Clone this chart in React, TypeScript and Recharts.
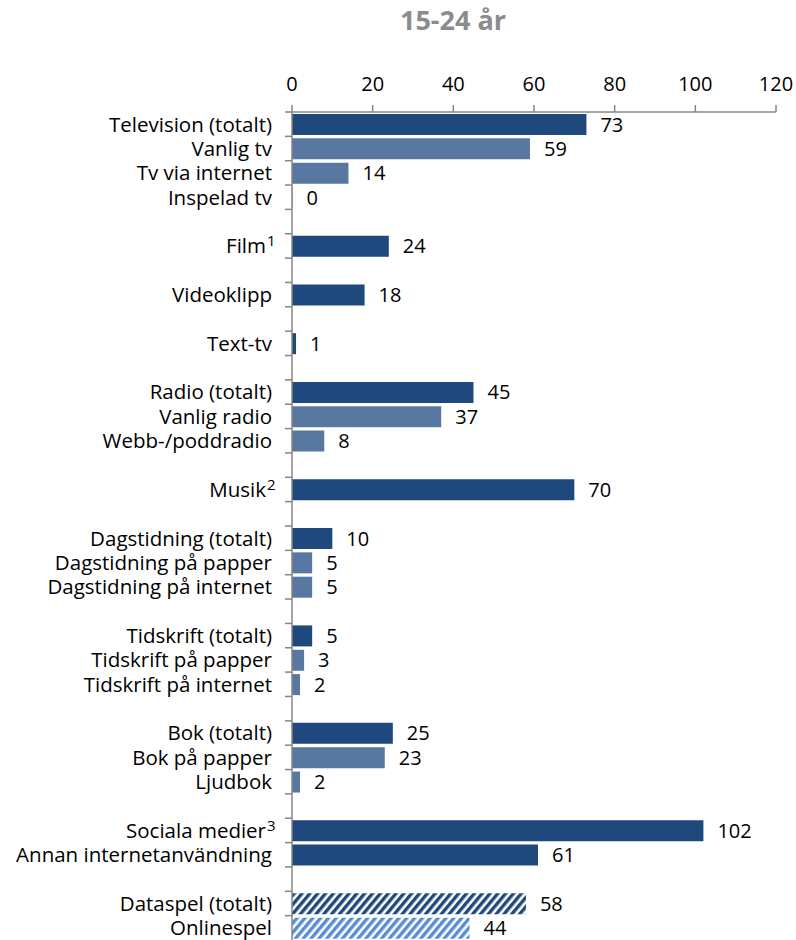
import React from 'react';
import { BarChart, Bar, XAxis, YAxis, Cell, LabelList } from 'recharts';

// one row per category, blank rows separate the groups
const categories = [
  'Television (totalt)', 'Vanlig tv', 'Tv via internet', 'Inspelad tv', '',
  'Film', '',
  'Videoklipp', '',
  'Text-tv', '',
  'Radio (totalt)', 'Vanlig radio', 'Webb-/poddradio', '',
  'Musik', '',
  'Dagstidning (totalt)', 'Dagstidning på papper', 'Dagstidning på internet', '',
  'Tidskrift (totalt)', 'Tidskrift på papper', 'Tidskrift på internet', '',
  'Bok (totalt)', 'Bok på papper', 'Ljudbok', '',
  'Sociala medier', 'Annan internetanvändning', '',
  'Dataspel (totalt)', 'Onlinespel',
];

const footnotes: Record<string, string> = {
  Film: '1',
  Musik: '2',
  'Sociala medier': '3',
};

const minutes: (number | null)[] = [
  73, 59, 14, 0, null,
  24, null,
  18, null,
  1, null,
  45, 37, 8, null,
  70, null,
  10, 5, 5, null,
  5, 3, 2, null,
  25, 23, 2, null,
  102, 61, null,
  58, 44,
];

// t = total, s = sub-item, g = games total, gs = games sub-item
const rowKind = [
  't', 's', 's', 's', '',
  't', '',
  't', '',
  't', '',
  't', 's', 's', '',
  't', '',
  't', 's', 's', '',
  't', 's', 's', '',
  't', 's', 's', '',
  't', 't', '',
  'g', 'gs',
];

const xTicks = [0, 20, 40, 60, 80, 100, 120];

const data = categories.map((name, i) => ({ id: `r${i}`, name, value: minutes[i], kind: rowKind[i] }));

const W = 796;
const H = 940;
const M = { top: 82, right: 20, bottom: 0, left: 0 };
const X_AXIS_H = 30;
const Y_AXIS_W = 292;
const band = (H - M.top - X_AXIS_H - M.bottom) / categories.length;

const FONT = '"Open Sans", sans-serif';
const AXIS_GRAY = '#868686';

const fillFor = (kind: string) => {
  if (kind === 's') return '#5878A1';
  if (kind === 'g') return 'url(#hatchDark)';
  if (kind === 'gs') return 'url(#hatchLight)';
  return '#1F497D';
};

const CategoryTick = (props: any) => {
  const { x, y, payload, index } = props;
  const row = data[index] ?? data.find((d) => d.id === payload.value);
  const name = row ? row.name : '';
  const sup = footnotes[name];
  const axisX = Y_AXIS_W;
  const top = y - band / 2;
  return (
    <g>
      <line x1={axisX - 7} x2={axisX} y1={top} y2={top} stroke={AXIS_GRAY} strokeWidth={1.5} />
      {name && (
        <text x={x - (sup ? 6 : 0)} y={y} dy="0.36em" textAnchor="end" fontFamily={FONT} fontSize={20.5} fill="#000">
          {name}
        </text>
      )}
      {sup && (
        <text x={x - 5} y={y - 5} dy="0.36em" textAnchor="start" fontFamily={FONT} fontSize={15} fill="#000">
          {sup}
        </text>
      )}
    </g>
  );
};

export default function App() {
  return (
    <div style={{ position: 'absolute', left: 0, top: 0, width: W, height: H, background: '#fff' }}>
      <svg width={0} height={0} style={{ position: 'absolute' }}>
        <defs>
          <pattern id="hatchDark" patternUnits="userSpaceOnUse" width={6} height={6} patternTransform="rotate(40)">
            <rect width={6} height={6} fill="#fff" />
            <rect width={3.4} height={6} fill="#1F497D" />
          </pattern>
          <pattern id="hatchLight" patternUnits="userSpaceOnUse" width={6} height={6} patternTransform="rotate(40)">
            <rect width={6} height={6} fill="#fff" />
            <rect width={3.4} height={6} fill="#558ED5" />
          </pattern>
        </defs>
      </svg>
      <div
        style={{
          position: 'absolute',
          left: 303,
          top: 1,
          width: 300,
          textAlign: 'center',
          fontFamily: FONT,
          fontWeight: 700,
          fontSize: 27,
          lineHeight: 'normal',
          color: '#8C8C8C',
        }}
      >
        15-24 år
      </div>
      <BarChart width={W} height={H} data={data} layout="vertical" margin={M} barSize={21}>
        <XAxis
          type="number"
          orientation="top"
          domain={[0, 120]}
          ticks={xTicks}
          height={X_AXIS_H}
          axisLine={{ stroke: AXIS_GRAY, strokeWidth: 1.5 }}
          tickLine={{ stroke: AXIS_GRAY, strokeWidth: 1.5 }}
          tickSize={7}
          tickMargin={14}
          tick={{ fontFamily: FONT, fontSize: 20, fill: '#000' }}
        />
        <YAxis
          type="category"
          dataKey="id"
          width={Y_AXIS_W}
          axisLine={{ stroke: AXIS_GRAY, strokeWidth: 1.5 }}
          tickLine={false}
          tickMargin={20}
          tickSize={0}
          interval={0}
          tick={<CategoryTick />}
        />
        <Bar
          dataKey="value"
          isAnimationActive={false}
          minPointSize={(v: any) => (v === 0 ? 0.5 : 0)}
        >
          {data.map((d) => (
            <Cell key={d.id} fill={fillFor(d.kind)} />
          ))}
          <LabelList
            dataKey="value"
            position="right"
            offset={14}
            fontFamily={FONT}
            fontSize={20}
            fill="#000"
          />
        </Bar>
      </BarChart>
    </div>
  );
}
